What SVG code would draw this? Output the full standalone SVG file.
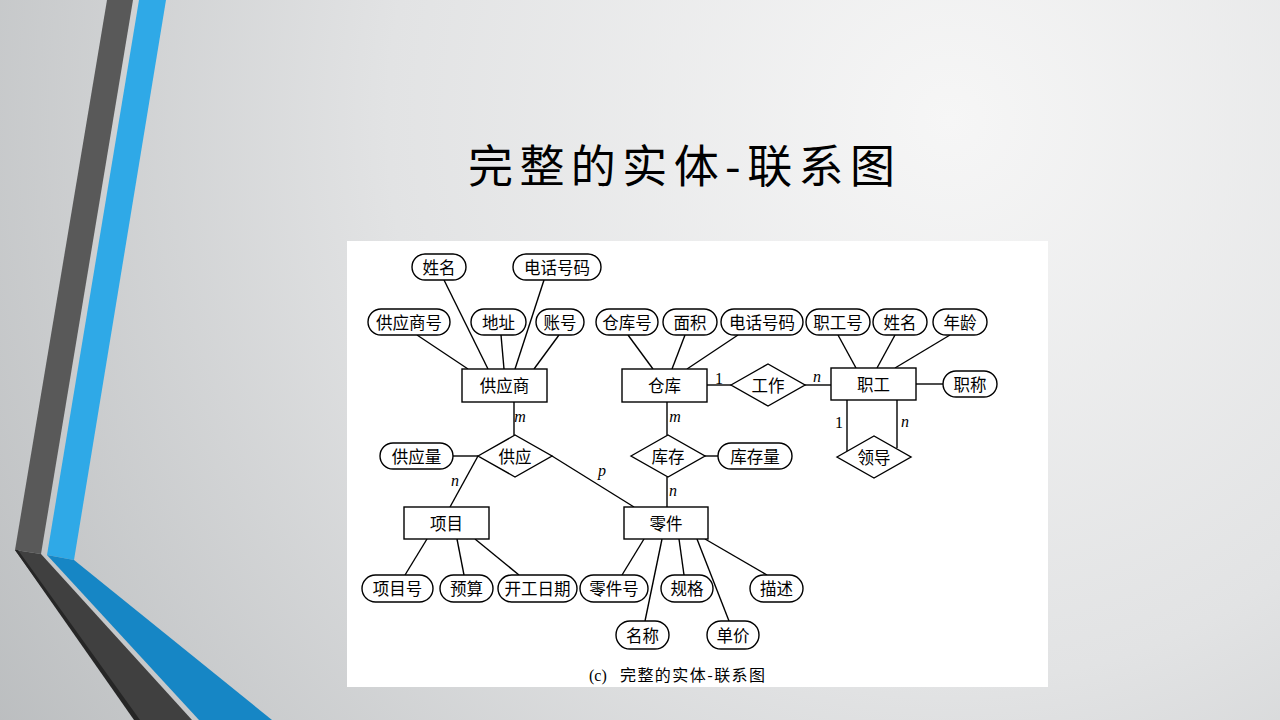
<svg xmlns="http://www.w3.org/2000/svg" width="1280" height="720" viewBox="0 0 1280 720">
  <defs>
    <radialGradient id="bg" cx="950" cy="120" r="1250" gradientUnits="userSpaceOnUse">
      <stop offset="0" stop-color="#f6f6f6"/>
      <stop offset="0.45" stop-color="#e2e3e4"/>
      <stop offset="1" stop-color="#b3b6b8"/>
    </radialGradient>
    <style>
      .ent { fill: #fff; stroke: #000; stroke-width: 1.4; }
      .attr { fill: #fff; stroke: #000; stroke-width: 1.4; }
      .rel { fill: #fff; stroke: #000; stroke-width: 1.4; }
      .lbl { font-family: "Noto Sans CJK SC", "Noto Sans CJK JP", sans-serif; font-size: 16.5px; fill: #000; text-anchor: middle; }
      .card { font-family: "Liberation Serif", serif; font-size: 16px; font-style: italic; fill: #000; text-anchor: middle; }
      .one { font-family: "Liberation Serif", serif; font-size: 16px; fill: #000; text-anchor: middle; }
      #connectors line { stroke: #000; stroke-width: 1.4; }
    </style>
  </defs>

  <!-- slide background -->
  <rect x="0" y="0" width="1280" height="720" fill="url(#bg)"/>

  <!-- left decorative stripes -->
  <g id="stripes">
    <polygon points="107,0 133,0 41,554 15,550" fill="#595959"/>
    <polygon points="15,550 41,554 192,720 137,720" fill="#404040"/>
    <polygon points="15,550 18,550 140,720 134,720" fill="#262626"/>
    <polygon points="139,0 166,0 74,560 47,555" fill="#2fa9e7"/>
    <polygon points="47,555 74,560 272,720 199,720" fill="#1686c5"/>
  </g>

  <!-- title -->
  <text x="468" y="183" textLength="427" lengthAdjust="spacing" font-family="'Noto Sans CJK SC', 'Noto Sans CJK JP', sans-serif" font-size="45" fill="#000">完整的实体-联系图</text>

  <!-- figure panel -->
  <rect x="347" y="241" width="701" height="446" fill="#fff"/>

  <!-- connectors -->
  <g id="connectors">
    <!-- 供应商 attributes -->
    <line x1="417" y1="335" x2="468" y2="369"/>
    <line x1="444" y1="280" x2="488" y2="369"/>
    <line x1="501" y1="335" x2="504" y2="369"/>
    <line x1="544" y1="280" x2="515" y2="369"/>
    <line x1="559" y1="335" x2="534" y2="369"/>
    <!-- 仓库 attributes -->
    <line x1="628" y1="335" x2="653" y2="369"/>
    <line x1="685" y1="335" x2="672" y2="369"/>
    <line x1="738" y1="335" x2="687" y2="369"/>
    <!-- 职工 attributes -->
    <line x1="838" y1="335" x2="856" y2="368"/>
    <line x1="895" y1="335" x2="877" y2="368"/>
    <line x1="950" y1="335" x2="895" y2="368"/>
    <line x1="916" y1="384" x2="943" y2="384"/>
    <!-- 工作 -->
    <line x1="707" y1="385" x2="731" y2="385"/>
    <line x1="805" y1="385" x2="831" y2="385"/>
    <!-- 领导 -->
    <line x1="847" y1="400" x2="847" y2="451"/>
    <line x1="897" y1="400" x2="897" y2="448"/>
    <!-- 供应 -->
    <line x1="514" y1="402" x2="514" y2="435"/>
    <line x1="453" y1="456" x2="478" y2="456"/>
    <line x1="478" y1="456" x2="450" y2="507"/>
    <line x1="552" y1="456" x2="634" y2="507"/>
    <!-- 库存 -->
    <line x1="667" y1="402" x2="667" y2="435"/>
    <line x1="667" y1="477" x2="667" y2="507"/>
    <line x1="705" y1="456" x2="718" y2="456"/>
    <!-- 项目 attributes -->
    <line x1="427" y1="539" x2="405" y2="575"/>
    <line x1="457" y1="539" x2="464" y2="575"/>
    <line x1="475" y1="539" x2="519" y2="575"/>
    <!-- 零件 attributes -->
    <line x1="644" y1="539" x2="622" y2="575"/>
    <line x1="662" y1="539" x2="645" y2="621"/>
    <line x1="679" y1="539" x2="684" y2="575"/>
    <line x1="697" y1="539" x2="729" y2="621"/>
    <line x1="705" y1="539" x2="767" y2="575"/>
  </g>

  <!-- entities -->
  <g id="supplier"><rect class="ent" x="462" y="369" width="85" height="33"/><text class="lbl" x="504.5" y="391.5">供应商</text></g>
  <g id="warehouse"><rect class="ent" x="622" y="369" width="85" height="33"/><text class="lbl" x="664.5" y="391.5">仓库</text></g>
  <g id="employee"><rect class="ent" x="831" y="368" width="85" height="32"/><text class="lbl" x="873.5" y="390.5">职工</text></g>
  <g id="project"><rect class="ent" x="404" y="507" width="85" height="32"/><text class="lbl" x="446.5" y="529.5">项目</text></g>
  <g id="part"><rect class="ent" x="624" y="507" width="84" height="32"/><text class="lbl" x="666" y="529.5">零件</text></g>

  <!-- relationships -->
  <g id="rel-work"><polygon class="rel" points="731,385 768,364 805,385 768,406"/><text class="lbl" x="768" y="391.5">工作</text></g>
  <g id="rel-lead"><polygon class="rel" points="837,457 874,436 911,457 874,478"/><text class="lbl" x="874" y="463.5">领导</text></g>
  <g id="rel-supply"><polygon class="rel" points="478,456 515,435 552,456 515,477"/><text class="lbl" x="515" y="462.5">供应</text></g>
  <g id="rel-stock"><polygon class="rel" points="631,456 668,435 705,456 668,477"/><text class="lbl" x="668" y="462.5">库存</text></g>

  <!-- attributes of 供应商 -->
  <g id="a-sname"><rect class="attr" x="412" y="254" width="54" height="26" rx="13"/><text class="lbl" x="439" y="273.5">姓名</text></g>
  <g id="a-sphone"><rect class="attr" x="513" y="254" width="88" height="26" rx="13"/><text class="lbl" x="557" y="273.5">电话号码</text></g>
  <g id="a-sno"><rect class="attr" x="368" y="309" width="82" height="26" rx="13"/><text class="lbl" x="409" y="328.5">供应商号</text></g>
  <g id="a-saddr"><rect class="attr" x="471" y="309" width="55" height="26" rx="13"/><text class="lbl" x="498.5" y="328.5">地址</text></g>
  <g id="a-sacct"><rect class="attr" x="536" y="309" width="48" height="26" rx="13"/><text class="lbl" x="560" y="328.5">账号</text></g>

  <!-- attributes of 仓库 -->
  <g id="a-wno"><rect class="attr" x="596" y="309" width="62" height="26" rx="13"/><text class="lbl" x="627" y="328.5">仓库号</text></g>
  <g id="a-warea"><rect class="attr" x="663" y="309" width="54" height="26" rx="13"/><text class="lbl" x="690" y="328.5">面积</text></g>
  <g id="a-wphone"><rect class="attr" x="721" y="309" width="82" height="26" rx="13"/><text class="lbl" x="762" y="328.5">电话号码</text></g>

  <!-- attributes of 职工 -->
  <g id="a-eno"><rect class="attr" x="806" y="309" width="64" height="26" rx="13"/><text class="lbl" x="838" y="328.5">职工号</text></g>
  <g id="a-ename"><rect class="attr" x="873" y="309" width="54" height="26" rx="13"/><text class="lbl" x="900" y="328.5">姓名</text></g>
  <g id="a-eage"><rect class="attr" x="933" y="309" width="54" height="26" rx="13"/><text class="lbl" x="960" y="328.5">年龄</text></g>
  <g id="a-etitle"><rect class="attr" x="943" y="371" width="54" height="26" rx="13"/><text class="lbl" x="970" y="390.5">职称</text></g>

  <!-- relationship attributes -->
  <g id="a-qty"><rect class="attr" x="380" y="443" width="73" height="26" rx="13"/><text class="lbl" x="416.5" y="462.5">供应量</text></g>
  <g id="a-stock"><rect class="attr" x="718" y="443" width="74" height="26" rx="13"/><text class="lbl" x="755" y="462.5">库存量</text></g>

  <!-- attributes of 项目 -->
  <g id="a-pno"><rect class="attr" x="362" y="575" width="71" height="27" rx="13.5"/><text class="lbl" x="397.5" y="594.5">项目号</text></g>
  <g id="a-budget"><rect class="attr" x="440" y="575" width="53" height="27" rx="13.5"/><text class="lbl" x="466.5" y="594.5">预算</text></g>
  <g id="a-start"><rect class="attr" x="498" y="575" width="79" height="27" rx="13.5"/><text class="lbl" x="537.5" y="594.5">开工日期</text></g>

  <!-- attributes of 零件 -->
  <g id="a-partno"><rect class="attr" x="580" y="575" width="68" height="27" rx="13.5"/><text class="lbl" x="614" y="594.5">零件号</text></g>
  <g id="a-spec"><rect class="attr" x="661" y="575" width="52" height="27" rx="13.5"/><text class="lbl" x="687" y="594.5">规格</text></g>
  <g id="a-desc"><rect class="attr" x="750" y="575" width="53" height="27" rx="13.5"/><text class="lbl" x="776.5" y="594.5">描述</text></g>
  <g id="a-pname"><rect class="attr" x="616" y="621" width="53" height="28" rx="14"/><text class="lbl" x="642.5" y="641.5">名称</text></g>
  <g id="a-price"><rect class="attr" x="707" y="621" width="52" height="28" rx="14"/><text class="lbl" x="733" y="641.5">单价</text></g>

  <!-- cardinalities -->
  <g id="cardinalities">
    <text class="card" x="520" y="422">m</text>
    <text class="card" x="675" y="422">m</text>
    <text class="one" x="719" y="384">1</text>
    <text class="card" x="817" y="382">n</text>
    <text class="one" x="839" y="428">1</text>
    <text class="card" x="905" y="427">n</text>
    <text class="card" x="455" y="486">n</text>
    <text class="card" x="602" y="476">p</text>
    <text class="card" x="673" y="496">n</text>
  </g>

  <!-- caption -->
  <text x="589" y="681" font-family="'Liberation Serif', serif" font-size="16" fill="#000">(c)</text>
  <text x="620" y="681" textLength="145" lengthAdjust="spacing" font-family="'Noto Sans CJK SC', sans-serif" font-size="16" fill="#000">完整的实体-联系图</text>
</svg>
